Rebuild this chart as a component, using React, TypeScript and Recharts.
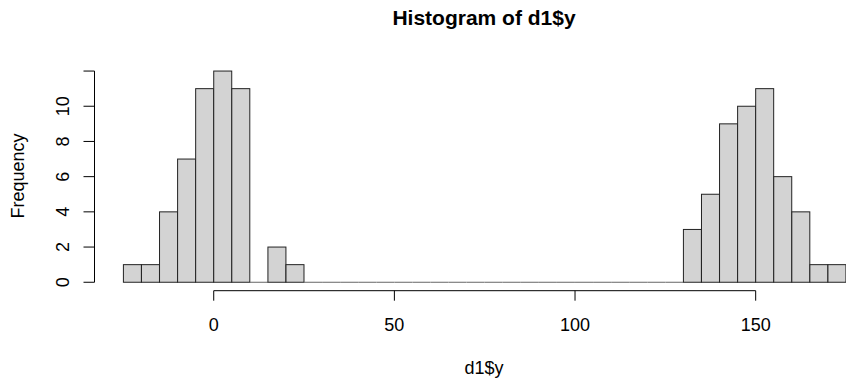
import React from "react"
import { ComposedChart, Bar, XAxis, YAxis, ReferenceLine } from "recharts"

// histogram counts, bins of width 5 starting at -25
const binStart = -25
const binWidth = 5
const counts = [
  1, 1, 4, 7, 11, 12, 11, 0, 2, 1,
  0, 0, 0, 0, 0, 0, 0, 0, 0, 0, 0,
  0, 0, 0, 0, 0, 0, 0, 0, 0, 0,
  3, 5, 9, 10, 11, 6, 4, 1, 1,
]
const xTicks = [0, 50, 100, 150]
const yTicks = [0, 2, 4, 6, 8, 10, 12]
const yLabeled = [0, 2, 4, 6, 8, 10]

const W = 846
const H = 381
const FONT = "'Liberation Sans', Arial, sans-serif"

const data = counts.map((count, i) => ({
  mid: binStart + binWidth * i + binWidth / 2,
  count,
}))

// R-style 4% padding around the data range
const xMin = binStart
const xMax = binStart + binWidth * counts.length
const xDomain = [xMin - 0.04 * (xMax - xMin), xMax]
const yDomain = [-0.04 * 12, 12 + 0.04 * 12]

const HistBar = (props: any) => {
  const { x, y, width, height } = props
  if (!height) {
    return <line x1={x} x2={x + width} y1={y} y2={y} stroke="#666" strokeWidth={1} />
  }
  return <rect x={x} y={y} width={width} height={height} fill="#D3D3D3" stroke="#222" strokeWidth={1} />
}

const XTick = ({ x, y, payload }: any) => (
  <text x={x} y={y + 30} textAnchor="middle" fontFamily={FONT} fontSize={18} fill="#000">
    {payload.value}
  </text>
)

const YTick = ({ x, y, payload }: any) => {
  if (!yLabeled.includes(payload.value)) return <g />
  return (
    <text
      transform={`translate(${x - 15},${y}) rotate(-90)`}
      textAnchor="middle"
      fontFamily={FONT}
      fontSize={18}
      fill="#000"
    >
      {payload.value}
    </text>
  )
}

export default function App() {
  return (
    <div style={{ position: "relative", width: W, height: H, background: "#fff" }}>
      <style>{`body{margin:0}`}</style>
      <ComposedChart
        width={W}
        height={H}
        data={data}
        margin={{ top: 62.6, right: 0, left: 0, bottom: 0 }}
        barCategoryGap={0}
        barGap={0}
      >
        <XAxis
          type="number"
          dataKey="mid"
          domain={xDomain}
          ticks={xTicks}
          allowDataOverflow
          axisLine={false}
          tickSize={10}
          tickMargin={0}
          tickLine={{ stroke: "#000" }}
          tick={<XTick />}
          height={90.3}
        />
        <YAxis
          type="number"
          domain={yDomain}
          ticks={yTicks}
          allowDataOverflow
          axisLine={false}
          tickSize={11}
          tickMargin={0}
          tickLine={{ stroke: "#000" }}
          tick={<YTick />}
          width={94.5}
        />
        <Bar dataKey="count" shape={<HistBar />} isAnimationActive={false} />
        <ReferenceLine
          segment={[
            { x: xTicks[0], y: yDomain[0] },
            { x: xTicks[xTicks.length - 1], y: yDomain[0] },
          ]}
          stroke="#000"
          ifOverflow="visible"
        />
        <ReferenceLine
          segment={[
            { x: xDomain[0], y: yTicks[0] },
            { x: xDomain[0], y: yTicks[yTicks.length - 1] },
          ]}
          stroke="#000"
          ifOverflow="visible"
        />
      </ComposedChart>
      <div
        style={{
          position: "absolute",
          left: 0,
          width: 968,
          top: 5.5,
          textAlign: "center",
          fontFamily: FONT,
          fontWeight: "bold",
          fontSize: 21,
          color: "#000",
        }}
      >
        Histogram of d1$y
      </div>
      <div
        style={{
          position: "absolute",
          left: 0,
          width: 968,
          top: 358,
          textAlign: "center",
          fontFamily: FONT,
          fontSize: 18,
          color: "#000",
        }}
      >
        d1$y
      </div>
      <div
        style={{
          position: "absolute",
          left: 18,
          top: 176,
          transform: "translate(-50%, -50%) rotate(-90deg)",
          fontFamily: FONT,
          fontSize: 18,
          color: "#000",
          whiteSpace: "nowrap",
        }}
      >
        Frequency
      </div>
    </div>
  )
}
